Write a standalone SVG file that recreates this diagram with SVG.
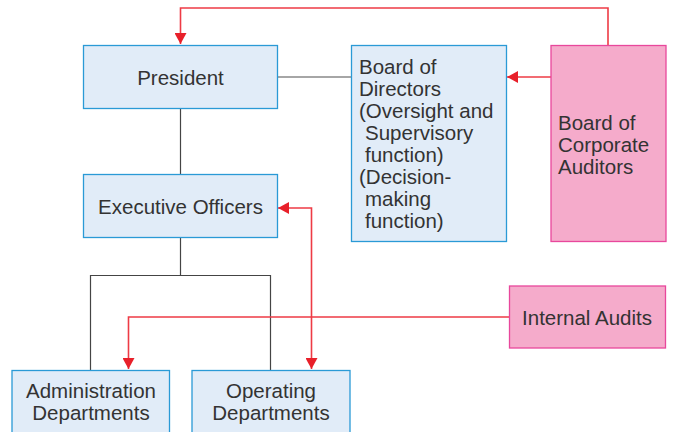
<svg xmlns="http://www.w3.org/2000/svg" width="673" height="432" viewBox="0 0 673 432">
<style>
.blue{fill:#e1ecf8;stroke:#2a9ad6;stroke-width:1.3}
.pink{fill:#f5abcb;stroke:#e8479c;stroke-width:1.3}
.t{font-family:"Liberation Sans",Arial,sans-serif;font-size:20.5px;fill:#333333}
.c{text-anchor:middle}
.k{fill:none;stroke:#444444;stroke-width:1.2}
.g{fill:none;stroke:#888888;stroke-width:1.5}
.r{fill:none;stroke:#ee3b45;stroke-width:1.6}
</style>
<defs>
<marker id="ah" markerWidth="12" markerHeight="12" viewBox="0 0 12 12" refX="11" refY="6" orient="auto-start-reverse" markerUnits="userSpaceOnUse">
<path d="M0,0 L11,6 L0,12 Z" fill="#e8202a"/>
</marker>
</defs>
<g id="connectors">
<path class="g" d="M277,77 H351"/>
<path class="k" d="M180.5,108 V174"/>
<path class="k" d="M180.5,237 V275.5 M90.5,370 V275.5 H270.5 V370"/>
<path class="r" d="M608,45 V8 H180.5 V44" marker-end="url(#ah)"/>
<path class="r" d="M551,77 H507" marker-end="url(#ah)"/>
<path class="r" d="M311.5,369 V208 H278" marker-start="url(#ah)" marker-end="url(#ah)"/>
<path class="r" d="M509,317 H128.5 V369" marker-end="url(#ah)"/>
</g>
<g id="president">
<rect class="blue" x="83.5" y="45.5" width="194" height="63"/>
<text class="t c" x="180.5" y="85">President</text>
</g>
<g id="executive-officers">
<rect class="blue" x="83.5" y="174.5" width="194" height="63"/>
<text class="t c" x="180.5" y="214">Executive Officers</text>
</g>
<g id="board-of-directors">
<rect class="blue" x="351.5" y="45.5" width="155" height="196"/>
<text class="t" x="359" y="74">Board of</text>
<text class="t" x="359" y="96">Directors</text>
<text class="t" x="359" y="118">(Oversight and</text>
<text class="t" x="365" y="140">Supervisory</text>
<text class="t" x="365" y="162">function)</text>
<text class="t" x="359" y="184">(Decision-</text>
<text class="t" x="365" y="206">making</text>
<text class="t" x="365" y="228">function)</text>
</g>
<g id="board-of-corporate-auditors">
<rect class="pink" x="551" y="45.5" width="115" height="196"/>
<text class="t" x="558" y="130">Board of</text>
<text class="t" x="558" y="152">Corporate</text>
<text class="t" x="558" y="174">Auditors</text>
</g>
<g id="internal-audits">
<rect class="pink" x="509.5" y="286" width="156" height="62"/>
<text class="t c" x="587" y="325">Internal Audits</text>
</g>
<g id="administration-departments">
<rect class="blue" x="12" y="370.5" width="157.5" height="70"/>
<text class="t c" x="91" y="398">Administration</text>
<text class="t c" x="91" y="420">Departments</text>
</g>
<g id="operating-departments">
<rect class="blue" x="192" y="370.5" width="158" height="70"/>
<text class="t c" x="271" y="398">Operating</text>
<text class="t c" x="271" y="420">Departments</text>
</g>
</svg>
